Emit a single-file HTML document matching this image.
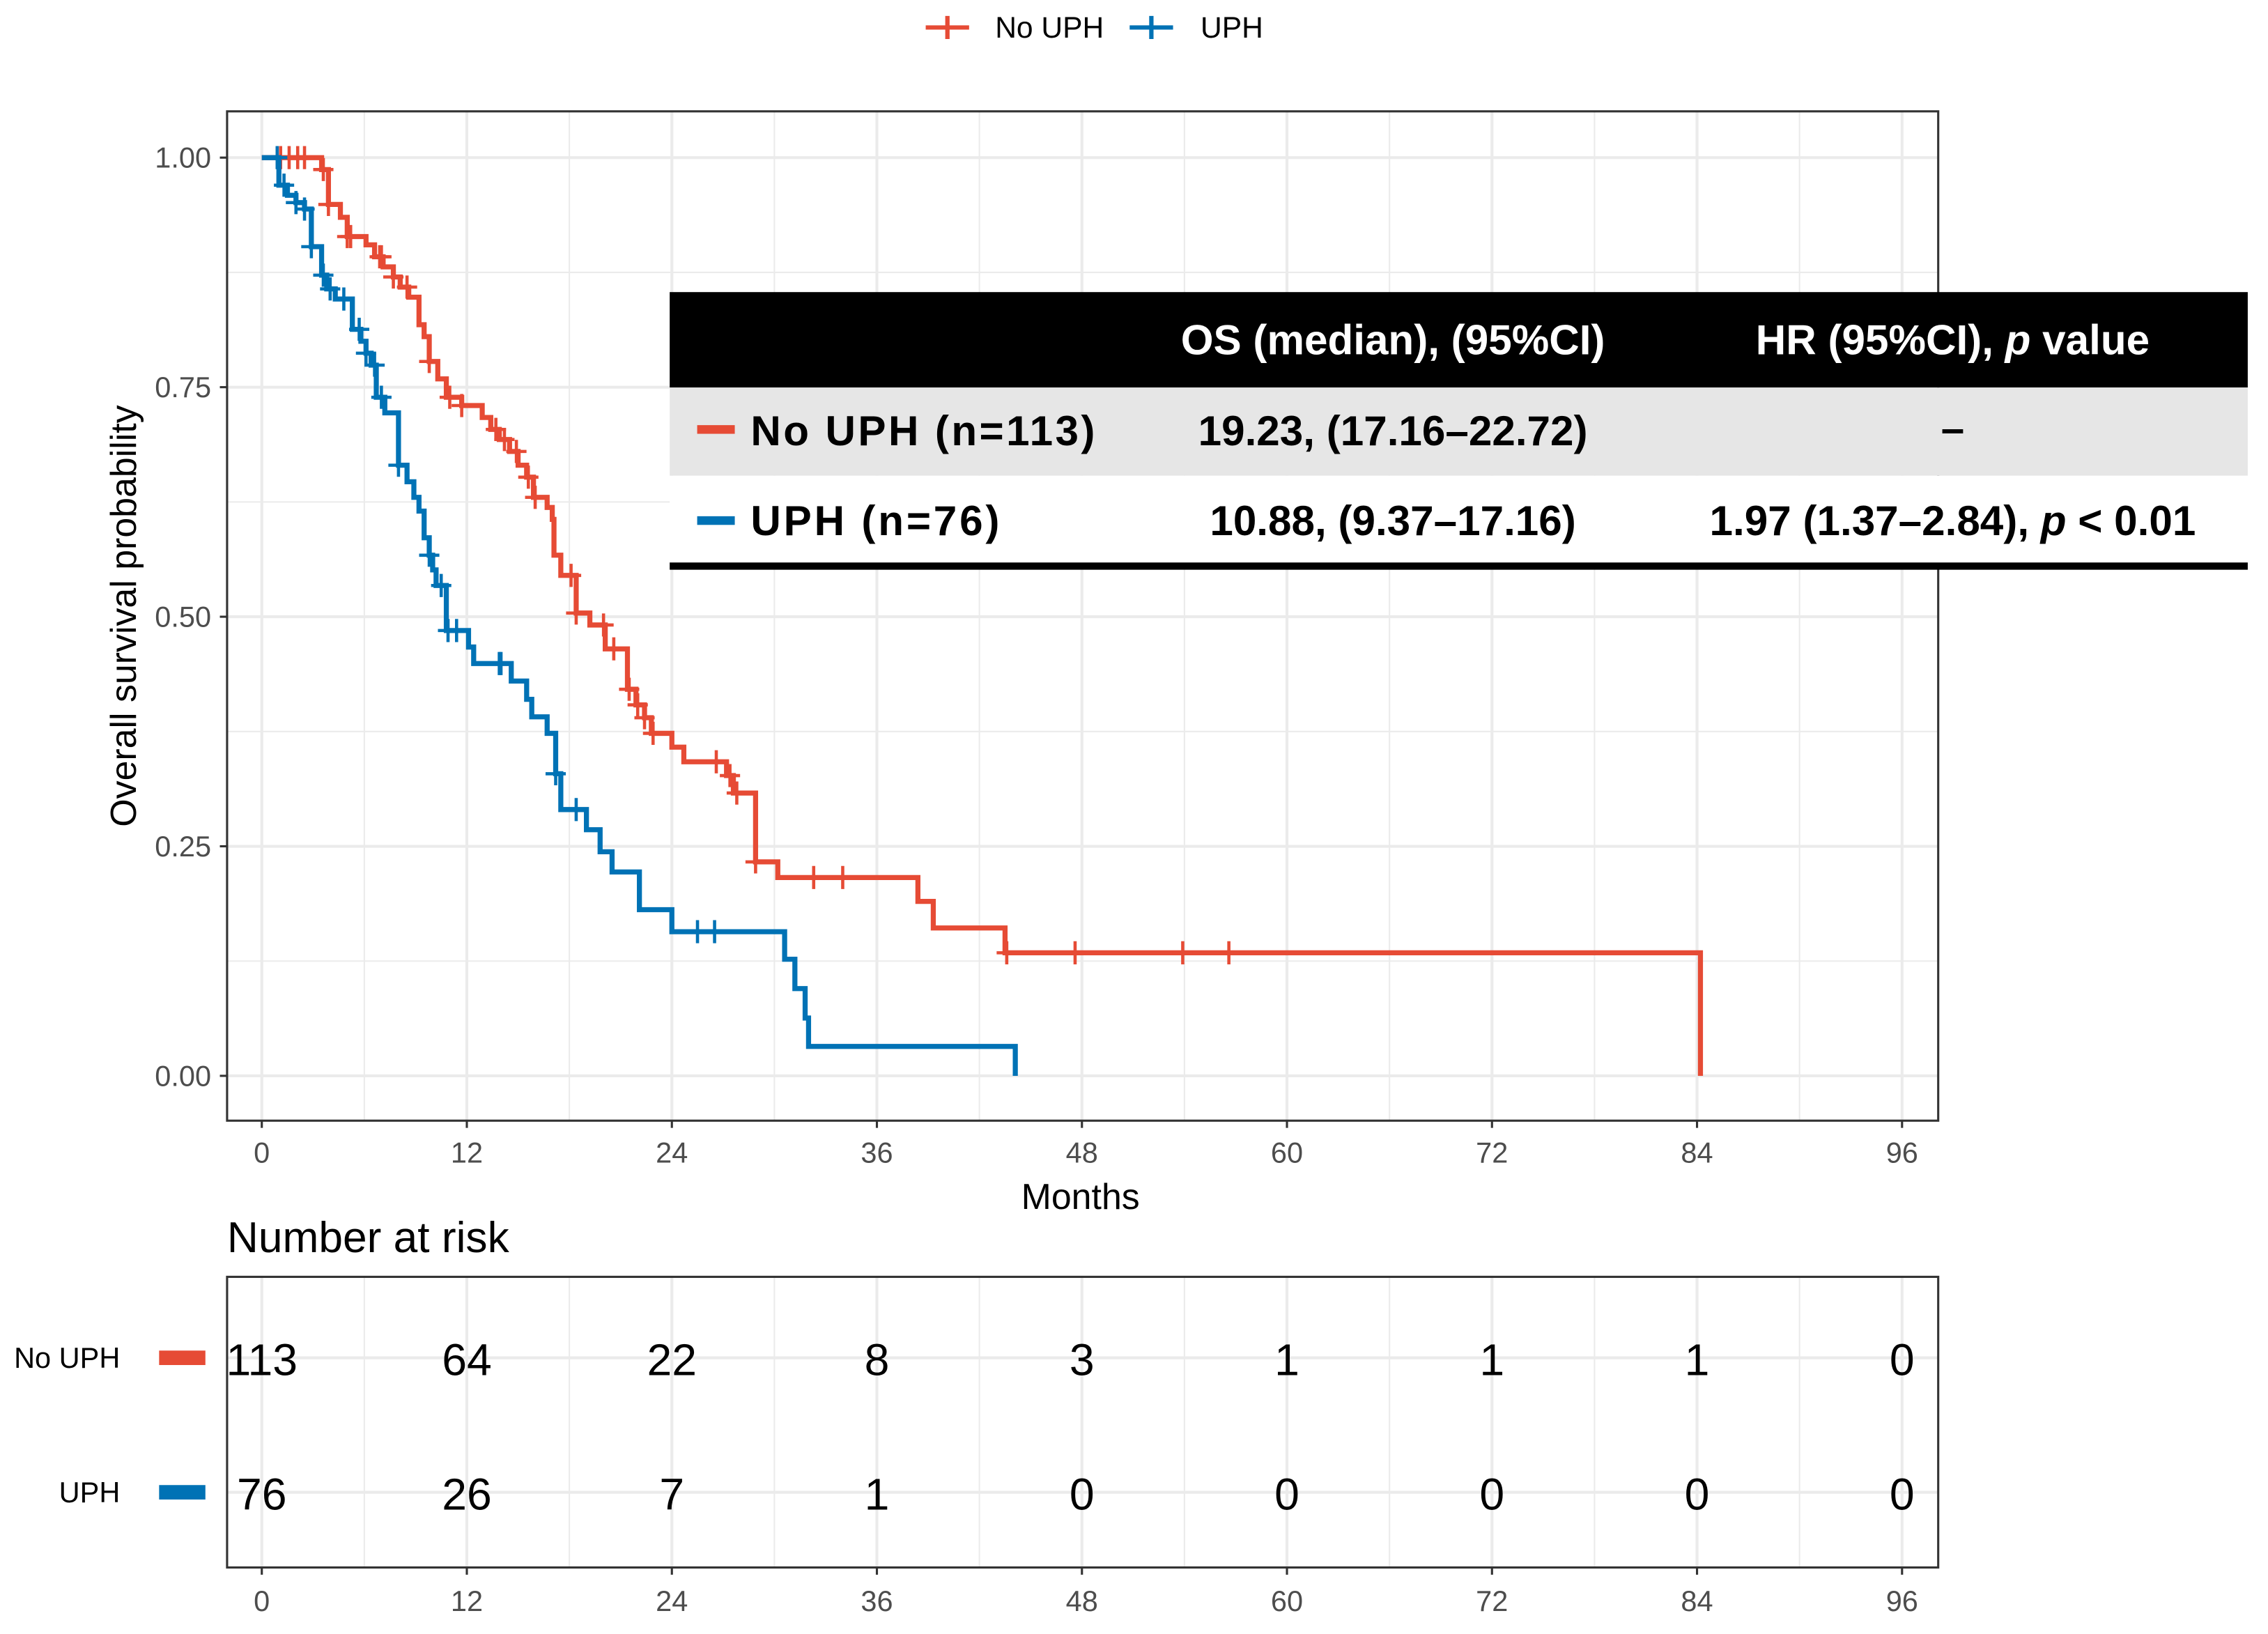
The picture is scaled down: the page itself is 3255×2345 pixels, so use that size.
<!DOCTYPE html>
<html><head><meta charset="utf-8">
<style>
html,body{margin:0;padding:0;background:#fff;}
svg{display:block;}
text{font-family:"Liberation Sans","Noto Sans CJK JP",sans-serif;}
</style></head>
<body>
<svg id="chart" width="3255" height="2345" viewBox="0 0 1568 1130" preserveAspectRatio="none" xmlns="http://www.w3.org/2000/svg">
</svg>
<script>
// ---- data ----
const xTicks = [0,12,24,36,48,60,72,84,96];
const yTicks = [0,0.25,0.5,0.75,1];
const yTickLabels = ["0.00","0.25","0.50","0.75","1.00"];
const groups = ["No UPH","UPH"];
const noUphTimes = [3.5,3.9,4.6,5.0,6.1,6.6,7.1,7.7,8.1,8.6,9.2,9.5,9.8,10.3,10.8,11.7,12.9,13.4,13.9,14.5,15.0,15.5,15.9,16.7,17.0,17.1,17.5,18.4,19.2,20.1,21.4,21.9,22.4,22.8,24.0,24.7,27.2,27.6,28.9,30.2,38.4,39.3,43.5,84.2];
const noUphSurv = [0.987,0.949,0.935,0.914,0.905,0.892,0.881,0.870,0.859,0.848,0.818,0.805,0.778,0.759,0.739,0.730,0.717,0.704,0.693,0.680,0.665,0.652,0.630,0.619,0.606,0.567,0.545,0.504,0.491,0.465,0.421,0.404,0.390,0.373,0.358,0.342,0.327,0.308,0.233,0.216,0.190,0.161,0.134,0];
const noUphCensor = [1.1,1.6,2.1,2.5,3.6,3.9,5.0,5.2,6.9,7.0,7.7,8.5,9.8,11.0,11.7,13.7,14.2,14.9,15.6,16.0,18.1,18.4,20.0,20.6,21.5,22.0,22.4,22.9,26.6,27.4,27.8,28.9,32.3,34.0,43.6,47.6,53.9,56.6];
const uphTimes = [1.0,1.5,2.0,2.5,2.9,3.5,3.8,4.3,5.3,5.8,6.1,6.4,6.7,7.2,8.0,8.5,8.9,9.2,9.5,9.8,10.0,10.2,10.8,12.1,12.4,14.6,15.5,15.8,16.7,17.2,17.5,19.0,19.8,20.5,22.1,24.0,30.6,31.2,31.8,32.0,44.1];
const uphSurv = [0.970,0.959,0.951,0.944,0.903,0.872,0.857,0.846,0.813,0.800,0.787,0.774,0.739,0.722,0.665,0.647,0.630,0.615,0.586,0.567,0.551,0.534,0.485,0.467,0.449,0.430,0.410,0.391,0.373,0.329,0.290,0.268,0.244,0.222,0.181,0.157,0.127,0.095,0.063,0.032,0];
const uphCensor = [0.9,1.3,2.0,2.5,2.9,3.6,4.0,4.8,5.7,6.1,6.6,7.0,8.0,9.8,10.5,10.9,11.4,13.9,14.0,17.2,18.4,25.5,26.5];
const riskNoUph = [113,64,22,8,3,1,1,1,0];
const riskUph = [76,26,7,1,0,0,0,0,0];

const RED="#E64B35", BLUE="#0072B5";
const svg=document.getElementById('chart');
const NS="http://www.w3.org/2000/svg";
function mk(tag,attrs,parent){const e=document.createElementNS(NS,tag);for(const k in attrs)e.setAttribute(k,attrs[k]);(parent||svg).appendChild(e);return e;}
function tx(str,attrs,parent){const e=mk('text',attrs,parent);e.textContent=str;return e;}
const X=t=>181+t*(1315-181)/96;
const Y=s=>744-s*(744-109);

// ---- main panel ----
const panel=mk('g',{});


for(let m=6;m<100;m+=12){mk('line',{x1:X(m),x2:X(m),y1:77,y2:775,stroke:'#ebebeb','stroke-width':1},panel);}
for(let s=0.125;s<1.1;s+=0.25){mk('line',{x1:157,x2:1340,y1:Y(s),y2:Y(s),stroke:'#ebebeb','stroke-width':1},panel);}
xTicks.forEach(m=>{mk('line',{x1:X(m),x2:X(m),y1:77,y2:775,stroke:'#ebebeb','stroke-width':2},panel);});
yTicks.forEach(s=>{mk('line',{x1:157,x2:1340,y1:Y(s),y2:Y(s),stroke:'#ebebeb','stroke-width':2},panel);});
mk('rect',{x:157,y:77,width:1183,height:698,fill:'none',stroke:'#333','stroke-width':1.5},panel);
yTicks.forEach((s,i)=>{
  mk('line',{x1:152,x2:157,y1:Y(s),y2:Y(s),stroke:'#333','stroke-width':1.5},panel);
  const t=tx(yTickLabels[i],{x:146,y:Y(s)+7,'text-anchor':'end','font-size':20,fill:'#4d4d4d'},panel);
  
  
});
xTicks.forEach(m=>{
  mk('line',{x1:X(m),x2:X(m),y1:775,y2:780,stroke:'#333','stroke-width':1.5},panel);
  const t=tx(String(m),{x:X(m),y:804,'text-anchor':'middle','font-size':20,fill:'#4d4d4d'},panel);
  
  
});
const yt=tx('Overall survival probability',{x:0,y:0,'text-anchor':'middle','font-size':25,fill:'#000',transform:'translate(94,426) rotate(-90)'});


const xt=tx('Months',{x:747,y:836,'text-anchor':'middle','font-size':25,fill:'#000'});



function survAt(times,surv,t){let s=1;for(let i=0;i<times.length;i++){if(times[i]<=t)s=surv[i];}return s;}
function drawCurve(times,surv,censor,color,name){
  const g=mk('g',{});
  
  
  let d='M'+X(0)+','+Y(1);let prev=1;
  for(let i=0;i<times.length;i++){d+=' L'+X(times[i])+','+Y(prev)+' L'+X(times[i])+','+Y(surv[i]);prev=surv[i];}
  mk('path',{d:d,fill:'none',stroke:color,'stroke-width':3.5},g);
  censor.forEach(c=>{
    const s=survAt(times,surv,c);
    const p=mk('path',{d:'M'+(X(c)-7)+','+Y(s)+' h14 M'+X(c)+','+(Y(s)-8)+' v16',stroke:color,'stroke-width':2.2},g);
    
    
  });
}
drawCurve(noUphTimes,noUphSurv,noUphCensor,RED,'no-uph');
drawCurve(uphTimes,uphSurv,uphCensor,BLUE,'uph');

// ---- legend ----
const lg=mk('g',{});


[[RED,640,688,groups[0]],[BLUE,781,830,groups[1]]].forEach(([c,x,tx0,lab])=>{
  const e=mk('g',{},lg);
  
  
  mk('path',{d:'M'+x+',19 h30 M'+(x+15)+',11 v16',stroke:c,'stroke-width':3},e);
  tx(lab,{x:tx0,y:26,'font-size':20.5,fill:'#000'},e);
});

// ---- summary table ----
const tb=mk('g',{});


mk('rect',{x:463,y:202,width:1091,height:66,fill:'#000'},tb);
mk('rect',{x:463,y:268,width:1091,height:61,fill:'#e6e6e6'},tb);
mk('rect',{x:463,y:329,width:1091,height:61,fill:'#fff'},tb);
mk('rect',{x:463,y:389,width:1091,height:5,fill:'#000'},tb);
const hf={'font-size':29,'font-weight':'bold',fill:'#fff','text-anchor':'middle'};
tx('OS (median), (95%CI)',Object.assign({x:963,y:245},hf),tb);
const h2=tx('',Object.assign({x:1350,y:245},hf),tb);

h2.innerHTML='HR (95%CI), <tspan font-style="italic">p</tspan> value';
const rf={'font-size':29,'font-weight':'bold',fill:'#000'};
mk('rect',{x:482,y:294,width:26,height:6,fill:RED},tb);
mk('rect',{x:482,y:357,width:26,height:6,fill:BLUE},tb);
tx('No UPH (n=113)',Object.assign({x:519,y:308,textLength:238},rf),tb);
tx('19.23, (17.16–22.72)',Object.assign({x:963,y:308,'text-anchor':'middle'},rf),tb);
tx('–',Object.assign({x:1350,y:306,'text-anchor':'middle'},rf),tb);
tx('UPH (n=76)',Object.assign({x:519,y:370,textLength:172},rf),tb);
tx('10.88, (9.37–17.16)',Object.assign({x:963,y:370,'text-anchor':'middle'},rf),tb);
const pv=tx('',Object.assign({x:1350,y:370,'text-anchor':'middle'},rf),tb);
pv.innerHTML='1.97 (1.37–2.84),  <tspan font-style="italic">p</tspan> &lt; 0.01';

// ---- risk table ----
const rt=tx('Number at risk',{x:157,y:866,'font-size':30,fill:'#000'});


const rk=mk('g',{});


for(let m=6;m<100;m+=12){mk('line',{x1:X(m),x2:X(m),y1:883,y2:1084,stroke:'#ebebeb','stroke-width':1},rk);}
xTicks.forEach(m=>{mk('line',{x1:X(m),x2:X(m),y1:883,y2:1084,stroke:'#ebebeb','stroke-width':2},rk);});
[939,1032].forEach(y=>mk('line',{x1:157,x2:1340,y1:y,y2:y,stroke:'#ebebeb','stroke-width':2},rk));
mk('rect',{x:157,y:883,width:1183,height:201,fill:'none',stroke:'#333','stroke-width':1.5},rk);
[[riskNoUph,939,RED,groups[0]],[riskUph,1032,BLUE,groups[1]]].forEach(([arr,y,c,lab])=>{
  tx(lab,{x:83,y:y+7,'text-anchor':'end','font-size':20,fill:'#000'},rk);
  mk('rect',{x:110,y:y-5,width:32,height:10,fill:c},rk);
  arr.forEach((v,i)=>{
    const t=tx(String(v),{x:X(xTicks[i]),y:y+12,'text-anchor':'middle','font-size':31,fill:'#000'},rk);
    
    
  });
});
xTicks.forEach(m=>{
  mk('line',{x1:X(m),x2:X(m),y1:1084,y2:1089,stroke:'#333','stroke-width':1.5},rk);
  tx(String(m),{x:X(m),y:1114,'text-anchor':'middle','font-size':20,fill:'#4d4d4d'},rk);
});
</script>
</body></html>
